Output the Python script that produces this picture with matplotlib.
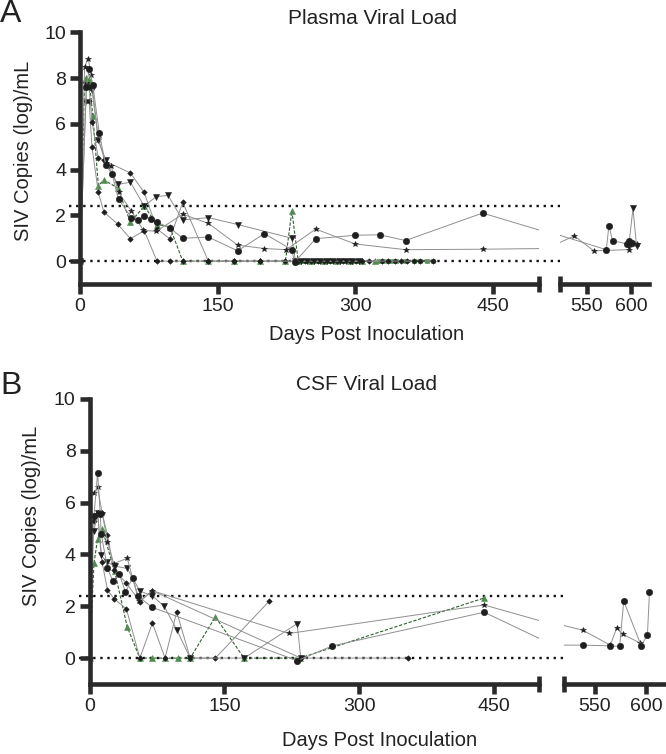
import matplotlib
matplotlib.use("Agg")
import matplotlib.pyplot as plt
import numpy as np

plt.rcParams['font.family'] = ['Liberation Sans', 'DejaVu Sans']

nan = np.nan

# ---------------- Plasma viral load (panel A) ----------------
pl_circle_days = [0, 7, 10, 14, 21, 28, 35, 42, 56, 63, 70, 77, 84, 98, 112, 140, 172, 201, 231, 234,
                  257, 300, 327, 355, 439, 572, 575, 579, 595, 597, 601]
pl_circle_vals = [0.0, 7.6, 8.4, 7.7, 5.6, 4.2, 3.8, 2.7, 1.9, 1.8, 1.95, 1.85, 1.7, 1.45, 1.0, 1.05, 0.45, 1.2, 0.5, -0.05,
                  0.98, 1.13, 1.15, 0.9, 2.1, 0.5, 1.55, 0.9, 0.75, 0.9, 0.8]

pl_star_days = [0, 5, 9, 12, 20, 28, 34, 42, 56, 69, 83, 112, 140, 172, 201, 225, 257, 300, 355, 439,
                505, 536, 558, 597, 606]
pl_star_vals = [0.0, 8.5, 8.85, 8.15, 5.3, 4.3, 4.15, 3.0, 2.2, 1.35, 1.3, 2.05, 1.65, 0.7, 0.55, 0.5, 1.4, 0.75, 0.5, 0.52,
                0.55, 1.1, 0.45, 0.5, 0.75]

pl_diamA_days = [7, 10, 13, 20, 26, 41, 55, 70, 84, 98, 112, 140, 168, 196, 224, 245, 259, 273, 287, 301,
                 315, 329, 343, 357, 371, 385]
pl_diamA_vals = [7.0, 7.0, 5.0, 3.0, 2.15, 1.62, 0.98, 1.33, 0.0, 0.0, 0.0, 0.0, 0.0, 0.0, 0.0, 0.0, 0.0, 0.0, 0.0, 0.0,
                 0.0, 0.0, 0.0, 0.0, 0.0, 0.0]

pl_diamB_days = [10, 13, 20, 26, 55, 70, 84, 98, 112, 140, 168, 196, 238, 252, 266, 280, 294, 308, 336, 350, 364]
pl_diamB_vals = [7.6, 6.1, 4.5, 4.4, 3.85, 3.0, 1.4, 0.98, 2.57, 0.0, 0.0, 0.0, 0.0, 0.0, 0.0, 0.0, 0.0, 0.0, 0.0, 0.0, 0.0]

pl_tri_days = [0, 7, 13, 20, 28, 41, 55, 70, 83, 96, 112, 140, 172, 231, 235,
               241, 248, 255, 262, 269, 276, 283, 290, 297, 304, 450, 597, 602, 606]
pl_tri_vals = [0.0, 7.7, 7.5, 5.3, 4.4, 3.35, 3.45, 2.4, 2.82, 2.87, 1.8, 1.9, 1.6, 1.0, 0.0,
               0.0, 0.0, 0.0, 0.0, 0.0, 0.0, 0.0, 0.0, 0.0, 0.0, nan, 0.6, 2.3, 0.65]

pl_gtri_days = [0, 5, 7, 10, 14, 20, 26, 41, 55, 70, 84, 98, 112, 140, 168, 196, 224, 231,
                238, 252, 266, 280, 294, 308, 322]
pl_gtri_vals = [0.0, 7.9, 8.0, 7.9, 6.35, 3.3, 3.55, 3.2, 1.7, 2.4, 1.6, 1.5, 0.0, 0.0, 0.0, 0.0, 0.0, 2.2,
                0.0, 0.0, 0.0, 0.0, 0.0, 0.0, 0.0]

pl_gsq_days = [242, 245, 249, 256, 259, 263, 270, 273, 277, 284, 287, 291, 298, 301, 305,
               326, 330, 336, 340, 345, 354, 364, 371, 378, 385]
pl_gsq_vals = [0.0, 0.0, 0.0, 0.0, 0.0, 0.0, 0.0, 0.0, 0.0, 0.0, 0.0, 0.0, 0.0, 0.0, 0.0,
               0.0, 0.0, 0.0, 0.0, 0.0, 0.0, 0.0, 0.0, 0.0, 0.0]

# ---------------- CSF viral load (panel B) ----------------
cs_circle_days = [5, 9, 12, 13, 20, 26, 33, 40, 48, 54, 69, 231, 270, 439, 516, 538, 565, 574, 578, 595, 601, 603]
cs_circle_vals = [5.5, 7.15, 5.55, 4.8, 3.47, 2.96, 3.26, 2.55, 3.1, 2.4, 1.97, -0.1, 0.47, 1.77, 0.5, 0.5, 0.47, 0.45,
                  2.2, 0.47, 0.9, 2.56]

cs_star_days = [5, 9, 14, 20, 27, 42, 55, 70, 222, 439, 538, 565, 571, 577, 594]
cs_star_vals = [6.36, 6.6, 5.6, 4.5, 3.65, 3.85, 2.2, 2.6, 0.95, 2.05, 1.08, 0.5, 1.15, 0.92, 0.58]

cs_diamA_days = [0, 5, 9, 14, 20, 27, 41, 56, 70, 84, 97, 112, 140, 200]
cs_diamA_vals = [0.0, 5.3, 5.6, 3.7, 2.63, 2.3, 1.9, 0.0, 1.35, 0.0, 1.78, 0.0, 0.0, 2.2]

cs_diamB_days = [9, 14, 20, 27, 41, 56, 70, 235, 354]
cs_diamB_vals = [5.6, 5.6, 4.75, 3.4, 2.9, 2.17, 2.6, 0.0, 0.0]

cs_tri_days = [5, 9, 13, 20, 28, 42, 56, 70, 83, 97, 112, 172, 231, 235]
cs_tri_vals = [4.92, 5.6, 3.96, 3.7, 3.55, 3.46, 2.59, 2.4, 2.0, 1.1, 0.0, 0.0, 1.33, 0.0]

cs_gtri_days = [0, 5, 9, 14, 28, 42, 56, 70, 84, 98, 112, 140, 172, 234, 439]
cs_gtri_vals = [0.0, 3.67, 4.6, 5.0, 3.35, 1.2, 0.0, 0.0, 0.0, 0.0, 0.0, 1.59, 0.0, 0.0, 2.32]

left_ticks = [0, 150, 300, 450]
right_ticks = [550, 600]
y_ticks = [0, 2, 4, 6, 8, 10]
detect_lines = [0.0, 2.4]

# ---------------- styling ----------------
BLK = '#1e1e1e'
GRN = '#4f8a4f'
LINE = '#8f8f8f'
GLINE = '#2f5e2f'
AX = '#2a2a2a'

def black_style(marker, ms):
    return dict(color=LINE, lw=0.7, marker=marker, ms=ms, mfc=BLK, mec=BLK, mew=0.4)

def green_style(marker, ms):
    return dict(color=GLINE, lw=0.8, ls=(0, (3, 1.5)), marker=marker, ms=ms, mfc=GRN, mec=GRN, mew=0.4)

plasma = [
    (pl_gsq_days, pl_gsq_vals, green_style('s', 3.0)),
    (pl_gtri_days, pl_gtri_vals, green_style('^', 4.0)),
    (pl_diamA_days, pl_diamA_vals, black_style('D', 2.8)),
    (pl_diamB_days, pl_diamB_vals, black_style('D', 2.8)),
    (pl_tri_days, pl_tri_vals, black_style('v', 4.2)),
    (pl_star_days, pl_star_vals, black_style('*', 4.2)),
    (pl_circle_days, pl_circle_vals, black_style('o', 4.6)),
]
csf = [
    (cs_gtri_days, cs_gtri_vals, green_style('^', 4.0)),
    (cs_diamA_days, cs_diamA_vals, black_style('D', 2.8)),
    (cs_diamB_days, cs_diamB_vals, black_style('D', 2.8)),
    (cs_tri_days, cs_tri_vals, black_style('v', 4.2)),
    (cs_star_days, cs_star_vals, black_style('*', 4.2)),
    (cs_circle_days, cs_circle_vals, black_style('o', 4.6)),
]

W, H = 666, 754
fig = plt.figure(figsize=(W / 100, H / 100), dpi=100)

def fx(px):
    return px / W

def fy(py):
    return 1 - py / H

def make_panel(l0, l1, r0, r1, ytop, ybot, series, title, title_xy, xlabel_xy, letter_y, ylab_coords):
    axl = fig.add_axes([fx(l0), fy(ybot), fx(l1 - l0), (ybot - ytop) / H])
    axr = fig.add_axes([fx(r0), fy(ybot), fx(r1 - r0), (ybot - ytop) / H])
    for days, vals, st in series:
        for ax in (axl, axr):
            ax.plot(days, vals, **st)
    for ax in (axl, axr):
        ax.set_ylim(-1, 10)
        ax.spines['top'].set_visible(False)
        ax.spines['right'].set_visible(False)
        for s in ('left', 'bottom'):
            ax.spines[s].set_linewidth(3.3)
            ax.spines[s].set_color(AX)
        ax.tick_params(axis='both', which='major', length=7, width=3.3, color=AX,
                       labelsize=14, labelcolor='#222222', pad=3)
        ax.tick_params(axis='x', which='minor', direction='inout', length=12, width=3.3, color=AX)
    axl.set_xlim(0, 500)
    axr.set_xlim(520, 620)
    axl.set_xticks(left_ticks)
    axl.set_xticks([500], minor=True)
    axr.set_xticks(right_ticks)
    axr.set_xticks([520], minor=True)
    axl.set_yticks(y_ticks)
    axr.set_yticks([])
    axr.spines['left'].set_visible(False)
    axl.set_ylabel('SIV Copies (log)/mL', fontsize=14.5, color='#222222')
    axl.yaxis.set_label_coords(*ylab_coords)
    # detection-limit dotted lines spanning both segments
    width = l1 - l0
    xmin = (l0 - 11 - l0) / width
    xmax = (r1 - l0) / width
    for yv in detect_lines:
        axl.axhline(yv, xmin=xmin, xmax=xmax, clip_on=False, color='#111111',
                    lw=1.7, ls=(0, (1, 2.0)), zorder=1.5)
    fig.text(fx(title_xy[0]), fy(title_xy[1]), title, ha='center', va='center', fontsize=15, color='#222222')
    fig.text(fx(xlabel_xy[0]), fy(xlabel_xy[1]), 'Days Post Inoculation', ha='center', va='center',
             fontsize=14.5, color='#222222')
    return axl, axr

make_panel(80, 538.5, 560, 649, 32.3, 284, plasma, 'Plasma Viral Load', (373, 18), (367, 335), 0, (-0.103, 0.53))
make_panel(89.5, 539, 564, 667, 399, 684, csf, 'CSF Viral Load', (366, 384), (380, 740), 0, (-0.109, 0.59))

fig.text(fx(0), fy(14), 'A', ha='left', va='center', fontsize=23, color='#222222')
fig.text(fx(0), fy(386), 'B', ha='left', va='center', fontsize=23, color='#222222')

fig.savefig('out.png', dpi=100)
